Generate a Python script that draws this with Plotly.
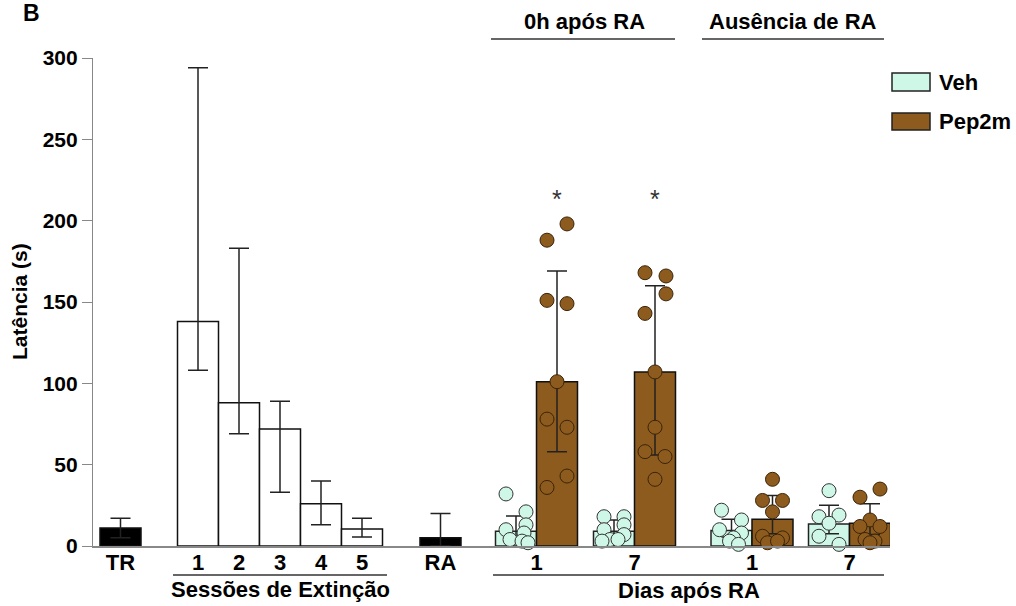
import plotly.graph_objects as go

# ---------------- data ----------------
base_labels = ["TR", "1", "2", "3", "4", "5", "RA"]
base_means = [11, 138, 88, 72, 26, 10.5, 5]
base_err_up = [6, 156, 95, 17, 14, 6.5, 15]
base_err_down = [6, 30, 19, 39, 13, 5, 5]

day_labels = ["1", "7", "1", "7"]
veh_means = [9, 9, 9.5, 13.5]
veh_err_up = [9.5, 7, 7, 11.5]
veh_err_down = [4, 3, 4, 6]
pep_means = [101, 107, 16.5, 14]
pep_err_up = [68, 53, 14.5, 12]
pep_err_down = [43, 51, 9, 7]

veh_dots = [
    [32, 21, 13, 10, 8, 4, 3, 2],
    [18, 18, 13, 10, 7, 4, 4, 3],
    [22, 16, 10, 8, 5, 3, 1],
    [34, 19, 18, 14, 6, 1],
]
pep_dots = [
    [198, 188, 151, 149, 101, 78, 73, 43, 36],
    [168, 166, 155, 143, 107, 73, 58, 55, 41],
    [41, 28, 28, 21, 6, 5, 2, 3],
    [35, 30, 16, 12, 12, 4, 3, 2],
]

# ---------------- layout (positions / styles) ----------------
W, H = 1016, 606
X0, X1 = 93, 890      # plot area px
Y0, Y1 = 546, 58      # bottom / top px
BW = 41
base_x = [120.5, 198, 239, 280, 321, 362, 440.5]
veh_x = [516, 614, 731.5, 829]
pep_x = [v + BW for v in veh_x]
veh_jit = [
    [-10, 10, 10, -10, 8, -6, 6, 12],
    [-10, 10, 10, -10, 10, -4, 4, -12],
    [-10, 10, -12, 10, 2, -2, 7],
    [0, 10, -10, 0, -10, 10],
]
pep_jit = [
    [10, -10, -10, 10, 0, -10, 10, 10, -10],
    [-10, 11, 11, -10, 0, 0, -10, 10, 0],
    [0, -10, 10, 0, -10, 10, -5, 5],
    [10, -10, 0, -10, 10, -5, 5, 0],
]

VEH_C = "#CFF7E7"
PEP_C = "#8D5B1E"
FONT = "Liberation Sans, Arial, sans-serif"


def px2x(px):
    return (px - X0) / (X1 - X0)


def px2y(py):
    return (Y0 - py) / (Y0 - Y1)


fig = go.Figure()

err_style = dict(type="data", symmetric=False, color="#222", thickness=1.5, width=10)

# baseline bars (TR, extinction sessions, RA)
base_fill = ["#000000"] + ["#FFFFFF"] * 5 + ["#000000"]
fig.add_trace(go.Bar(
    x=base_x, y=base_means, width=BW,
    marker=dict(color=base_fill, line=dict(color="#111", width=1.5)),
    error_y=dict(array=base_err_up, arrayminus=base_err_down, **err_style),
    showlegend=False, hoverinfo="y",
))
fig.add_trace(go.Bar(
    x=veh_x, y=veh_means, width=BW, name="Veh",
    marker=dict(color=VEH_C, line=dict(color="#222", width=1.5)),
    error_y=dict(array=veh_err_up, arrayminus=veh_err_down, **err_style),
    showlegend=False,
))
fig.add_trace(go.Bar(
    x=pep_x, y=pep_means, width=BW, name="Pep2m",
    marker=dict(color=PEP_C, line=dict(color="#111", width=1.5)),
    error_y=dict(array=pep_err_up, arrayminus=pep_err_down, **err_style),
    showlegend=False,
))

# individual points
for cx, vals, jit in zip(veh_x, veh_dots, veh_jit):
    fig.add_trace(go.Scatter(
        x=[cx + j for j in jit], y=vals, mode="markers", cliponaxis=False,
        marker=dict(size=14, color=VEH_C, line=dict(color="#333", width=1)),
        showlegend=False,
    ))
for cx, vals, jit in zip(pep_x, pep_dots, pep_jit):
    fig.add_trace(go.Scatter(
        x=[cx + j for j in jit], y=vals, mode="markers", cliponaxis=False,
        marker=dict(size=14, color=PEP_C, line=dict(color="#3a2408", width=1)),
        showlegend=False,
    ))

tickvals = base_x + [(v + p) / 2 for v, p in zip(veh_x, pep_x)]
ticktext = base_labels + day_labels

shapes = []
annotations = []


def hline(x_a, x_b, py):
    shapes.append(dict(type="line", xref="paper", yref="paper",
                       x0=px2x(x_a), x1=px2x(x_b), y0=px2y(py), y1=px2y(py),
                       line=dict(color="#333", width=1.5)))


def text(px, py, s, size=21, bold=True, xanchor="center", angle=0, color="#000"):
    annotations.append(dict(xref="paper", yref="paper", x=px2x(px), y=px2y(py),
                            text=s, showarrow=False, xanchor=xanchor, yanchor="middle",
                            textangle=angle,
                            font=dict(family=FONT, size=size, color=color,
                                      weight="bold" if bold else "normal")))


# group brackets
hline(173, 387, 575)
text(280, 589, "Sessões de Extinção", size=22)
hline(493, 884, 575)
text(689, 590, "Dias após RA", size=22)
hline(491, 675, 39)
text(584, 21, "0h após RA", size=22)
hline(702, 884, 39)
text(793, 21, "Ausência de RA", size=22)

# y-axis title and panel letter
text(19, 302, "Latência (s)", size=21, angle=-90)
text(31, 13, "B", size=23)

# significance stars
for cx in pep_x[:2]:
    text(cx, 199, "*", size=25, bold=False, color="#333")

# manual legend
for py0, py1, col, lab in [(73, 91, VEH_C, "Veh"), (113, 130, PEP_C, "Pep2m")]:
    shapes.append(dict(type="rect", xref="paper", yref="paper",
                       x0=px2x(892), x1=px2x(930), y0=px2y(py1), y1=px2y(py0),
                       fillcolor=col, line=dict(color="#222", width=1.5)))
    text(937, (py0 + py1) / 2, lab, size=22, xanchor="left")

fig.update_layout(
    width=W, height=H, autosize=False,
    margin=dict(l=X0, r=W - X1, t=Y1, b=H - Y0, pad=0),
    plot_bgcolor="white", paper_bgcolor="white",
    font=dict(family=FONT, color="#000"),
    barmode="overlay",
    shapes=shapes, annotations=annotations,
    showlegend=False,
)
fig.update_xaxes(
    range=[X0, X1], showgrid=False, zeroline=False,
    showline=True, linecolor="#888", linewidth=1.5,
    tickvals=tickvals, ticktext=ticktext, ticks="",
    tickfont=dict(family=FONT, size=22, color="#000", weight="bold"),
    ticklabelstandoff=-4,
    automargin=False, fixedrange=True,
)
fig.update_yaxes(
    range=[0, 300], showgrid=False, zeroline=False,
    showline=True, linecolor="#888", linewidth=1.2,
    tickvals=[0, 50, 100, 150, 200, 250, 300],
    ticks="outside", ticklen=10, tickcolor="#888", tickwidth=1.2,
    tickfont=dict(family=FONT, size=21, color="#000", weight="bold"),
    automargin=False, fixedrange=True,
)

fig.write_html("out.html")
